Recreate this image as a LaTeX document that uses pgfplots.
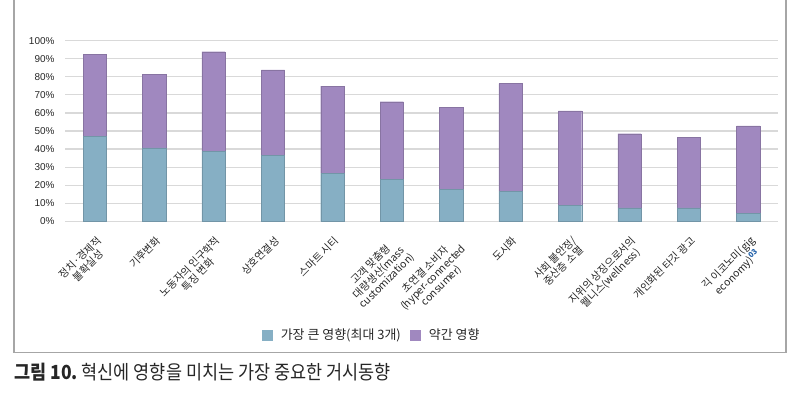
\documentclass[border=0pt]{standalone}
\usepackage{pgfplots}
\pgfplotsset{compat=1.18}
\usepackage{fontspec}
\setmainfont{Liberation Sans}
\newfontfamily\kr{Noto Sans CJK KR}
\newfontfamily\krcap[FakeStretch=0.9]{Noto Sans CJK KR}
\definecolor{cblue}{HTML}{86AFC4}
\definecolor{cpurple}{HTML}{A088BF}
\definecolor{gridc}{HTML}{D9D9D9}
\definecolor{framec}{HTML}{A6A6A6}
\definecolor{txt}{HTML}{262626}
\definecolor{refblue}{HTML}{1F5FA8}
\begin{document}
\begin{tikzpicture}[x=1bp,y=1bp]
\useasboundingbox (0,0) rectangle (800,399);
\draw[framec, line width=1.6bp] (14,402) -- (14,46.5) -- (786,46.5) -- (786,402);
\begin{axis}[
 at={(65bp,177.7bp)}, anchor=south west, scale only axis, width=713bp, height=180.6bp,
 ybar stacked, bar width=23.3bp,
 xmin=-0.5, xmax=11.5, ymin=0, ymax=100,
 axis line style={draw=none},
 ymajorgrids, grid style={gridc, line width=1.2bp},
 major tick length=0pt,
 ytick={0,10,...,100},
 yticklabel={\pgfmathprintnumber{\tick}\%},
 /pgf/number format/assume math mode=true,
 yticklabel style={font=\fontsize{10}{11}\selectfont, text=txt, xshift=-7bp},
 xtick={0,...,11},
 xticklabels={{정치·경제적\\불확실성}, 기후변화, {노동자의 인구학적\\특징 변화}, 상호연결성, 스마트 시티, {고객 맞춤형\\대량생산(mass\\customization)}, {초연결 소비자\\(hyper-connected\\consumer)}, 도시화, {사회 불안정/\\중산층 소멸}, {지위의 상징으로서의\\웰니스(wellness)}, 개인화된 타깃 광고, {긱 이코노미(gig\\economy)\textsuperscript{\color{refblue}\bfseries\fontsize{7.5}{8}\selectfont 03}}},
 xticklabel style={font=\kr\fontsize{10.5}{11.5}\selectfont, text=txt, align=center, xshift=1bp, yshift=-9bp, rotate=45, anchor=north east},
 legend style={at={(0.43,-0.63)}, anchor=center, draw=none, fill=none, legend columns=2, font=\kr\fontsize{13}{14}\selectfont, text=txt, /tikz/every even column/.append style={column sep=7bp}},
 legend image code/.code={\draw[#1, draw=none] (0bp,-5.5bp) rectangle (11bp,5.5bp); \path (17bp,0bp);},
]
\addplot[fill=cblue, draw=cblue!85!black, line width=0.4bp] coordinates {(0,47.1) (1,40.6) (2,38.9) (3,36.7) (4,26.6) (5,23.4) (6,17.5) (7,16.4) (8,9.0) (9,7.5) (10,7.5) (11,4.4)};
\addplot[fill=cpurple, draw=cpurple!85!black, line width=0.4bp] coordinates {(0,45.5) (1,40.6) (2,55.0) (3,47.1) (4,48.3) (5,42.8) (6,45.6) (7,59.8) (8,52.2) (9,41.0) (10,38.8) (11,48.5)};
\legend{가장 큰 영향(최대 3개), 약간 영향}
\end{axis}
\node[anchor=base west, inner sep=0, text=txt] at (14,20) {\krcap\fontsize{19.5}{22}\selectfont\bfseries 그림 10.\mdseries\ 혁신에 영향을 미치는 가장 중요한 거시동향};
\end{tikzpicture}
\end{document}
